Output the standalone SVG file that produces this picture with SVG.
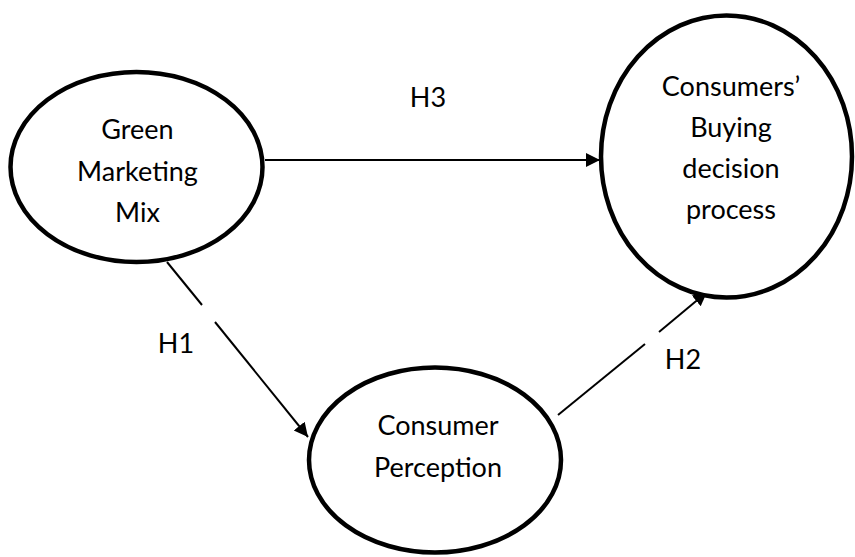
<svg xmlns="http://www.w3.org/2000/svg" width="855" height="557" viewBox="0 0 855 557">
<defs>
<marker id="ah" markerWidth="8" markerHeight="8" refX="7" refY="3.5" orient="auto" markerUnits="strokeWidth">
<path d="M0,0 L7,3.5 L0,7 Z" fill="#000"/>
</marker>
<style>
.node{fill:#fff;stroke:#000;stroke-width:4.5}
.t{font-family:Lato,"Open Sans","Liberation Sans",sans-serif;font-size:27px;fill:#000;text-anchor:middle}
.c{stroke:#000;stroke-width:2;fill:none}
</style>
</defs>
<rect width="855" height="557" fill="#fff"/>
<g id="connectors">
<line class="c" x1="265" y1="160" x2="600" y2="160" marker-end="url(#ah)"/>
<line class="c" x1="167" y1="262" x2="202" y2="305"/>
<line class="c" x1="215" y1="322" x2="308" y2="437" marker-end="url(#ah)"/>
<line class="c" x1="558" y1="415" x2="645" y2="344"/>
<line class="c" x1="659" y1="332" x2="707" y2="292" marker-end="url(#ah)"/>
<text class="t" x="428" y="107">H3</text>
<text class="t" x="176" y="353">H1</text>
<text class="t" x="683" y="369">H2</text>
</g>
<g id="green">
<ellipse class="node" cx="136.5" cy="167" rx="126" ry="95"/>
<text class="t" x="137.5" y="139">Green</text>
<text class="t" x="137.5" y="181">Marketing</text>
<text class="t" x="137.5" y="222">Mix</text>
</g>
<g id="buying">
<ellipse class="node" cx="726.5" cy="156.5" rx="125.5" ry="141"/>
<text class="t" x="731" y="96">Consumers’</text>
<text class="t" x="731" y="137">Buying</text>
<text class="t" x="731" y="178">decision</text>
<text class="t" x="731" y="219">process</text>
</g>
<g id="perception">
<ellipse class="node" cx="435" cy="460" rx="126" ry="92.5"/>
<text class="t" x="438" y="435">Consumer</text>
<text class="t" x="438" y="477">Perception</text>
</g>
</svg>
